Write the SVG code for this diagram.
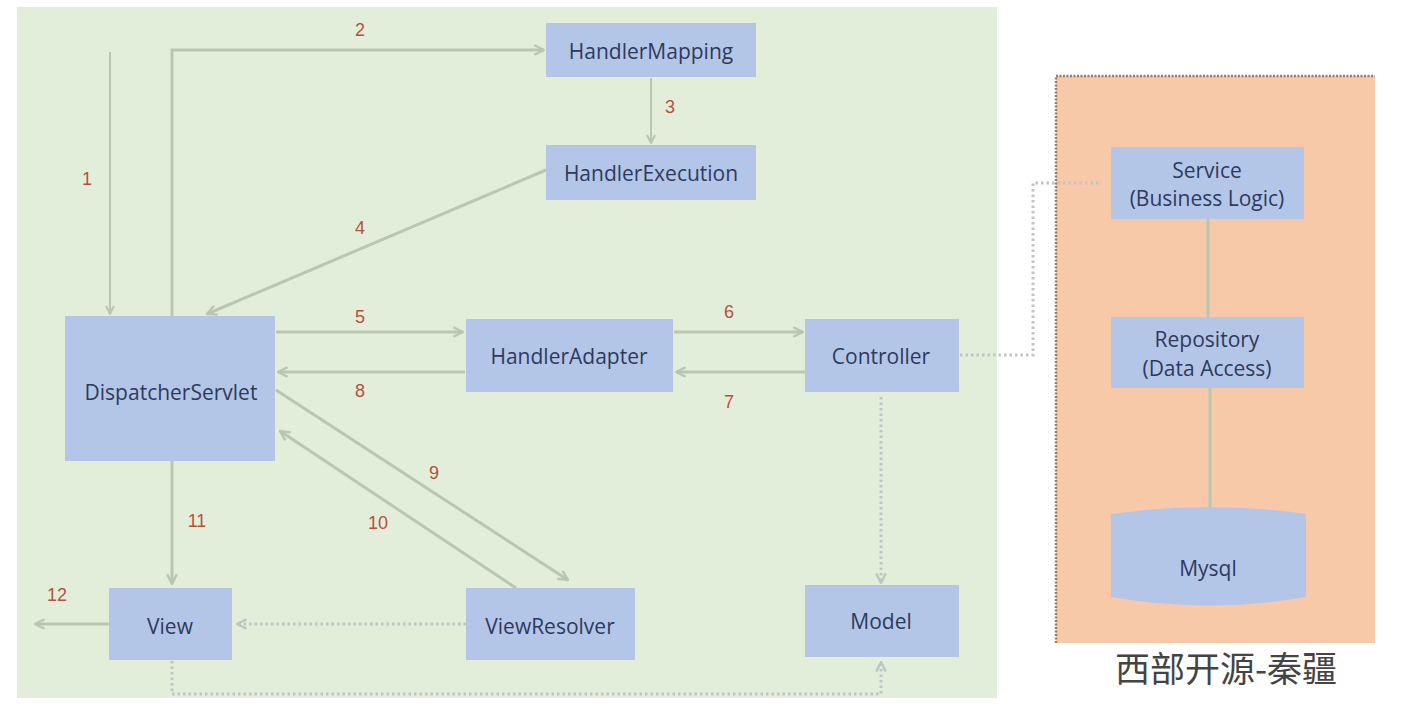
<svg xmlns="http://www.w3.org/2000/svg" width="1422" height="709" viewBox="0 0 1422 709">
<style>
.node{fill:#B4C6E8;}
.nt{font-family:"Open Sans","Liberation Sans",sans-serif;font-size:21px;fill:#2E3A5C;text-anchor:middle;dominant-baseline:central;}
.num{font-family:"Liberation Sans",sans-serif;font-size:18px;fill:#B5513A;text-anchor:middle;}
.ln{fill:none;stroke:#B9C6B1;stroke-width:3;}
.thin{fill:none;stroke:#B9C6B1;stroke-width:2;}
.dot{fill:none;stroke:#BEC5C2;stroke-width:3;stroke-dasharray:2.5 3;}
</style>
<defs>
<marker id="ah" viewBox="0 0 10 10" refX="9" refY="5" markerWidth="4" markerHeight="4" orient="auto" markerUnits="strokeWidth">
<path d="M1,1 L9,5 L1,9" fill="none" stroke="#B9C6B1" stroke-width="2"/>
</marker>
<marker id="ah2" viewBox="0 0 10 10" refX="9" refY="5" markerWidth="5" markerHeight="5" orient="auto" markerUnits="strokeWidth">
<path d="M1,1 L9,5 L1,9" fill="none" stroke="#B9C6B1" stroke-width="2"/>
</marker>
<marker id="ahd" viewBox="0 0 10 10" refX="9" refY="5" markerWidth="4" markerHeight="4" orient="auto" markerUnits="strokeWidth">
<path d="M1,1 L9,5 L1,9" fill="none" stroke="#BEC5C2" stroke-width="2"/>
</marker>
</defs>
<rect x="0" y="0" width="1422" height="709" fill="#FFFFFF"/>
<rect x="17" y="7" width="980" height="691" fill="#E3EEDA"/>
<g id="panel">
<rect x="1056" y="76" width="319" height="567" fill="#F8C9A9"/>
<path d="M1056,643 L1056,76 L1375,76" fill="none" stroke="#8A7F78" stroke-width="2.5" stroke-dasharray="2 1.5"/>
</g>
<g id="connectors">
<path class="thin" d="M110,52 L110,314" marker-end="url(#ah2)"/>
<path class="ln" d="M172,316 L172,50 L544,50" marker-end="url(#ah)"/>
<path class="thin" d="M651,78 L651,143" marker-end="url(#ah2)"/>
<path class="ln" d="M546,170 L207,314" marker-end="url(#ah)"/>
<path class="ln" d="M276,332 L463,332" marker-end="url(#ah)"/>
<path class="ln" d="M465,372 L278,372" marker-end="url(#ah)"/>
<path class="ln" d="M674,332 L803,332" marker-end="url(#ah)"/>
<path class="ln" d="M805,372 L676,372" marker-end="url(#ah)"/>
<path class="ln" d="M276,390 L568,580" marker-end="url(#ah)"/>
<path class="ln" d="M516,588 L280,431" marker-end="url(#ah)"/>
<path class="ln" d="M172,461 L172,584" marker-end="url(#ah)"/>
<path class="ln" d="M109,624 L35,624" marker-end="url(#ah)"/>
<path class="dot" d="M466,624 L237,624" marker-end="url(#ahd)"/>
<path class="dot" d="M881,397 L881,583" marker-end="url(#ahd)"/>
<path class="dot" d="M172,661 L172,694 L881,694 L881,662" marker-end="url(#ahd)"/>
<path class="dot" d="M960,355 L1033,355 L1033,183 L1102,183"/>
<path class="ln" d="M1208,219 L1208,317" stroke="#CCBFB3"/>
<path class="ln" d="M1210,388 L1210,508" stroke="#CCBFB3"/>
</g>
<g id="labels">
<text class="num" x="87" y="185">1</text>
<text class="num" x="360" y="36">2</text>
<text class="num" x="670" y="113">3</text>
<text class="num" x="360" y="234">4</text>
<text class="num" x="360" y="323">5</text>
<text class="num" x="729" y="318">6</text>
<text class="num" x="729" y="408">7</text>
<text class="num" x="360" y="397">8</text>
<text class="num" x="434" y="479">9</text>
<text class="num" x="378" y="529">10</text>
<text class="num" x="197" y="527">11</text>
<text class="num" x="57" y="601">12</text>
</g>
<g id="HandlerMapping"><rect class="node" x="546" y="23" width="210" height="54"/><text class="nt" x="651" y="51">HandlerMapping</text></g>
<g id="HandlerExecution"><rect class="node" x="546" y="145" width="210" height="55"/><text class="nt" x="651" y="173">HandlerExecution</text></g>
<g id="DispatcherServlet"><rect class="node" x="65" y="316" width="210" height="145"/><text class="nt" x="171" y="392">DispatcherServlet</text></g>
<g id="HandlerAdapter"><rect class="node" x="466" y="319" width="207" height="73"/><text class="nt" x="569" y="356">HandlerAdapter</text></g>
<g id="Controller"><rect class="node" x="805" y="319" width="154" height="73"/><text class="nt" x="881" y="356">Controller</text></g>
<g id="View"><rect class="node" x="109" y="588" width="123" height="72"/><text class="nt" x="170" y="626">View</text></g>
<g id="ViewResolver"><rect class="node" x="466" y="588" width="169" height="72"/><text class="nt" x="550" y="626">ViewResolver</text></g>
<g id="Model"><rect class="node" x="805" y="585" width="154" height="72"/><text class="nt" x="881" y="621">Model</text></g>
<g id="Service"><rect class="node" x="1111" y="147" width="193" height="72"/><text class="nt" x="1207" y="170">Service</text><text class="nt" x="1207" y="198">(Business Logic)</text></g>
<g id="Repository"><rect class="node" x="1111" y="317" width="193" height="71"/><text class="nt" x="1207" y="339">Repository</text><text class="nt" x="1207" y="368">(Data Access)</text></g>
<g id="Mysql"><path class="node" d="M1111,514 Q1208,500 1306,514 L1306,597 Q1208,614 1111,597 Z"/><text class="nt" x="1208" y="568">Mysql</text></g>
<text x="1226" y="682" font-family="'Noto Sans CJK SC',sans-serif" font-size="35" fill="#444444" text-anchor="middle">西部开源-秦疆</text>
</svg>
